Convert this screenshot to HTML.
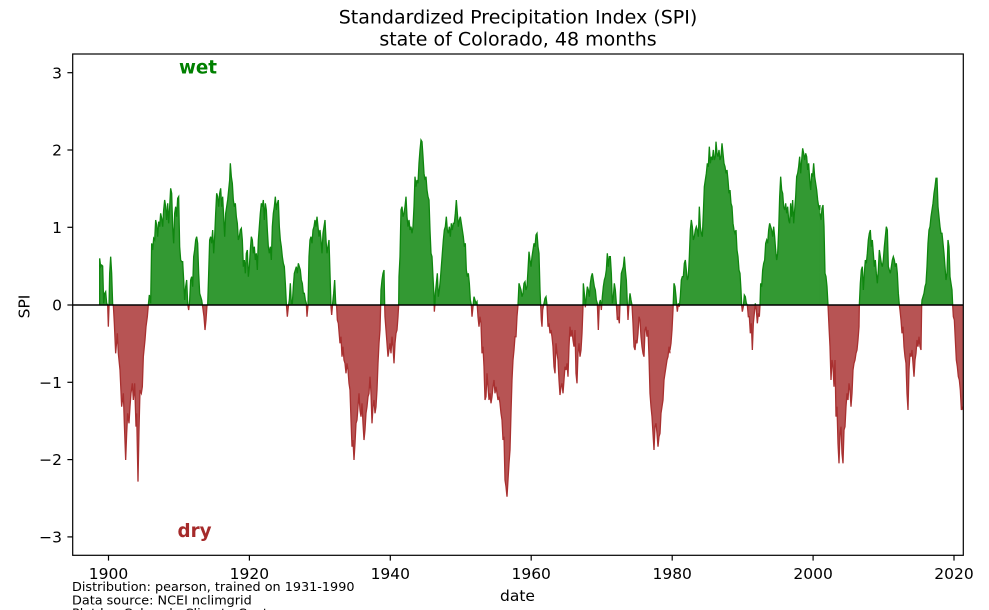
<!DOCTYPE html>
<html>
<head>
<meta charset="utf-8">
<style>
html,body{margin:0;padding:0;background:#fff;}
svg{display:block;}
text{font-family:"DejaVu Sans","Liberation Sans",sans-serif;fill:#000;}
</style>
</head>
<body>
<svg width="989" height="610" viewBox="0 0 989 610" xmlns="http://www.w3.org/2000/svg">
<defs>
  <clipPath id="cAbove"><rect x="0" y="0" width="989" height="305"/></clipPath>
  <clipPath id="cBelow"><rect x="0" y="305" width="989" height="305"/></clipPath>
  <g id="fills">
    <path transform="translate(60,40) scale(0.333333)" d="M119,795 L119,655 122,680 125,675 128,678 131,790 134,760 137,755 140,790 143,795 145,860 147,800 149,700 152,650 155,700 158,795 160,795 163,850 167,940 172,880 175,940 180,990 185,1100 190,1060 193,1150 197,1260 200,1180 203,1120 207,1150 210,1100 213,1060 217,1030 220,1080 224,1030 228,1160 230,1120 234,1325 237,1170 240,1050 244,1060 247,1040 250,950 255,900 258,860 262,830 265,795 268,765 272,790 275,610 278,630 281,595 284,600 287,540 290,555 293,590 296,545 299,560 302,520 305,535 308,560 311,510 314,480 317,500 320,540 323,490 326,550 329,500 332,445 335,460 338,560 341,610 344,520 347,500 350,530 353,475 356,470 359,620 362,660 365,665 368,665 371,720 374,780 377,740 380,720 383,790 386,810 389,780 392,720 395,710 398,740 401,650 404,630 407,600 410,590 413,610 416,700 419,760 422,770 425,780 428,800 432,830 435,870 438,840 441,795 443,795 446,700 449,600 452,590 455,610 458,570 461,640 464,590 467,520 470,460 473,470 476,500 479,460 482,445 485,500 488,470 491,530 494,590 497,520 500,500 503,480 506,450 509,420 511,370 514,410 517,430 520,480 523,500 526,490 529,530 532,550 535,600 538,590 541,570 544,565 547,600 550,680 553,660 556,700 559,640 562,630 565,710 568,680 571,630 574,590 577,600 580,640 583,620 586,660 589,640 592,690 595,600 598,560 601,520 604,490 607,500 610,480 613,540 616,490 619,510 622,570 625,620 628,640 631,620 634,660 637,560 640,520 643,500 646,470 649,510 652,490 655,480 658,560 661,600 664,620 667,650 670,670 673,680 676,730 679,790 682,830 685,800 688,780 691,730 694,790 697,790 700,740 703,700 706,690 709,680 712,700 715,670 718,680 721,690 724,720 727,730 730,760 733,760 736,780 739,790 741,830 744,795 747,650 750,600 753,590 756,610 759,570 762,560 765,540 768,560 771,530 774,560 777,590 780,570 783,600 786,640 789,580 792,560 795,540 798,600 801,640 804,620 807,600 810,700 813,800 815,825 818,790 821,760 824,720 827,790 831,800 831,795 Z"/>
    <path transform="translate(280,130) scale(0.333333)" d="M169,525 L172,570 175,580 180,640 183,620 186,680 189,650 192,690 195,700 198,730 201,700 204,720 207,760 210,780 213,870 216,950 219,930 222,990 225,940 228,880 231,870 234,830 237,790 240,840 243,860 246,820 249,880 252,930 255,900 258,850 261,830 264,800 267,790 270,740 273,790 276,880 279,830 282,810 285,850 288,830 291,780 294,700 297,640 300,600 302,525 303,480 306,450 309,430 312,420 314,525 315,560 318,600 321,640 324,680 327,660 330,640 333,670 336,620 339,650 342,700 345,640 348,610 351,600 354,560 356,525 357,440 360,380 363,240 366,230 369,260 372,250 375,230 378,200 381,260 384,290 387,270 390,300 393,290 396,310 399,290 402,230 405,140 408,170 411,150 414,160 417,100 420,60 423,30 426,35 429,80 432,130 435,150 438,140 441,180 444,200 447,210 450,300 453,370 456,380 459,440 462,500 463,545 465,520 466,490 469,460 472,430 475,500 478,480 481,450 484,410 487,370 490,330 493,300 496,290 499,260 502,300 505,310 508,290 511,320 514,280 517,300 520,280 523,280 526,250 529,210 532,250 535,290 538,270 541,260 544,280 547,300 550,320 553,350 556,340 559,420 562,440 565,430 568,460 571,510 574,525 Z"/>
    <path transform="translate(470,220) scale(0.333333)" d="M4,255 L6,290 9,260 12,230 15,240 18,250 21,245 24,290 27,320 30,290 33,310 36,400 39,380 42,440 45,540 48,530 51,460 54,500 57,540 60,520 63,550 66,530 69,500 72,480 75,520 78,500 81,520 84,540 87,530 90,550 93,580 96,600 99,660 102,650 105,780 108,800 111,830 114,780 117,730 120,690 123,580 126,480 129,420 132,390 135,350 138,350 141,290 144,255 147,190 150,200 153,210 156,230 159,220 162,190 165,185 168,210 171,200 174,150 177,95 180,120 183,140 186,110 189,90 192,70 195,80 198,45 201,40 204,80 207,100 210,210 212,255 214,300 216,320 218,270 221,255 225,235 228,230 231,255 234,320 237,310 240,340 243,330 246,350 249,380 252,440 255,460 258,370 261,400 264,420 267,480 270,525 273,500 276,490 279,520 282,480 285,440 288,450 291,430 294,470 297,380 300,320 303,350 306,330 309,360 312,380 315,330 318,460 321,490 324,400 327,370 330,410 333,390 336,340 339,260 340,190 343,220 346,262 349,230 352,200 355,210 358,230 361,190 364,170 367,160 370,180 373,200 376,210 379,240 382,250 385,330 388,250 391,240 394,270 397,230 400,200 403,180 406,170 409,150 412,100 415,140 418,110 421,110 424,160 427,250 430,230 433,190 436,210 439,250 442,300 445,290 448,310 451,220 454,160 457,150 460,140 463,110 466,150 469,180 472,250 474,300 477,250 480,220 483,240 486,255 489,310 492,380 495,390 498,360 501,370 504,340 507,290 510,300 513,350 516,380 519,400 522,410 525,330 528,320 531,350 534,330 537,410 540,520 543,560 546,590 549,640 552,690 555,620 558,610 561,640 564,680 567,650 570,640 573,580 576,560 579,540 582,480 585,460 588,440 591,420 594,410 597,380 601,400 601,255 Z"/>
    <path transform="translate(660,130) scale(0.333333)" d="M29,525 L29,660 33,640 36,600 39,540 42,460 45,470 48,500 50,525 52,545 55,520 58,530 61,500 64,450 67,440 70,440 73,400 76,390 79,420 82,450 85,440 88,380 91,300 94,270 97,290 100,330 103,320 106,300 109,290 112,300 115,320 118,230 121,290 124,310 127,320 130,250 133,170 136,150 139,130 142,100 145,110 148,50 151,100 154,80 157,90 160,60 163,90 166,80 168,35 171,70 174,80 177,60 180,90 183,80 186,40 189,70 192,100 195,110 198,130 201,120 204,150 207,190 210,180 213,220 216,230 219,280 222,300 225,310 228,300 231,360 234,380 237,420 240,430 243,480 245,525 247,545 250,530 253,495 256,500 259,520 262,525 265,560 268,560 271,610 274,580 277,660 280,580 283,550 286,520 289,540 292,580 295,550 298,560 300,525 302,460 305,470 308,420 311,400 314,390 317,340 320,330 323,340 326,300 329,280 332,290 335,300 338,320 341,290 344,320 347,360 350,390 353,370 356,300 359,200 362,140 365,180 368,190 371,230 374,240 377,220 380,250 383,230 386,270 389,280 392,220 395,260 398,210 401,280 404,240 407,200 410,140 413,130 416,110 419,80 422,130 425,90 428,55 431,70 434,90 437,70 440,80 443,120 446,100 449,150 452,180 455,130 458,140 461,100 464,140 467,160 470,180 473,210 476,230 479,240 481,225 481,525 Z"/>
    <path transform="translate(820,160) scale(0.333333)" d="M-1,435 L-1,160 3,180 6,145 9,135 12,200 15,340 18,350 21,380 24,435 27,500 30,560 33,660 36,600 39,620 42,680 45,600 48,770 51,740 54,850 57,910 60,820 63,800 66,880 69,910 72,810 75,800 78,740 81,700 84,720 87,670 90,690 93,740 96,700 99,630 102,610 105,600 108,580 111,570 114,540 117,500 118,435 121,370 124,330 127,320 130,390 133,340 136,300 139,310 142,280 145,240 148,220 151,210 154,260 157,240 160,280 163,320 166,300 169,340 172,370 175,330 178,270 181,290 184,310 187,320 190,300 193,260 196,230 199,200 202,210 205,320 208,330 211,340 214,320 217,300 220,290 223,300 226,320 229,310 232,340 235,400 238,435 240,450 243,480 246,520 249,500 252,560 255,590 258,610 261,700 264,750 267,630 270,580 273,590 276,570 279,610 282,650 285,600 288,580 291,540 294,560 297,530 300,560 303,570 305,435 306,420 309,410 312,400 315,380 318,370 321,320 324,250 327,210 330,200 333,170 336,150 339,130 342,100 345,80 348,55 351,55 354,140 357,170 360,200 363,220 366,220 369,250 372,280 375,320 378,360 381,340 384,240 387,260 390,350 393,370 396,390 398,435 400,470 403,480 406,540 409,600 412,620 415,650 418,660 421,690 424,750 427,740 429,750 429,435 Z"/>
  </g>
  <g id="lines" fill="none">
    <path vector-effect="non-scaling-stroke" transform="translate(60,40) scale(0.333333)" d="M119,795 L119,655 122,680 125,675 128,678 131,790 134,760 137,755 140,790 143,795 145,860 147,800 149,700 152,650 155,700 158,795 160,795 163,850 167,940 172,880 175,940 180,990 185,1100 190,1060 193,1150 197,1260 200,1180 203,1120 207,1150 210,1100 213,1060 217,1030 220,1080 224,1030 228,1160 230,1120 234,1325 237,1170 240,1050 244,1060 247,1040 250,950 255,900 258,860 262,830 265,795 268,765 272,790 275,610 278,630 281,595 284,600 287,540 290,555 293,590 296,545 299,560 302,520 305,535 308,560 311,510 314,480 317,500 320,540 323,490 326,550 329,500 332,445 335,460 338,560 341,610 344,520 347,500 350,530 353,475 356,470 359,620 362,660 365,665 368,665 371,720 374,780 377,740 380,720 383,790 386,810 389,780 392,720 395,710 398,740 401,650 404,630 407,600 410,590 413,610 416,700 419,760 422,770 425,780 428,800 432,830 435,870 438,840 441,795 443,795 446,700 449,600 452,590 455,610 458,570 461,640 464,590 467,520 470,460 473,470 476,500 479,460 482,445 485,500 488,470 491,530 494,590 497,520 500,500 503,480 506,450 509,420 511,370 514,410 517,430 520,480 523,500 526,490 529,530 532,550 535,600 538,590 541,570 544,565 547,600 550,680 553,660 556,700 559,640 562,630 565,710 568,680 571,630 574,590 577,600 580,640 583,620 586,660 589,640 592,690 595,600 598,560 601,520 604,490 607,500 610,480 613,540 616,490 619,510 622,570 625,620 628,640 631,620 634,660 637,560 640,520 643,500 646,470 649,510 652,490 655,480 658,560 661,600 664,620 667,650 670,670 673,680 676,730 679,790 682,830 685,800 688,780 691,730 694,790 697,790 700,740 703,700 706,690 709,680 712,700 715,670 718,680 721,690 724,720 727,730 730,760 733,760 736,780 739,790 741,830 744,795 747,650 750,600 753,590 756,610 759,570 762,560 765,540 768,560 771,530 774,560 777,590 780,570 783,600 786,640 789,580 792,560 795,540 798,600 801,640 804,620 807,600 810,700 813,800 815,825 818,790 821,760 824,720 827,790 830,800"/>
    <path vector-effect="non-scaling-stroke" transform="translate(280,130) scale(0.333333)" d="M170,530 L172,570 175,580 180,640 183,620 186,680 189,650 192,690 195,700 198,730 201,700 204,720 207,760 210,780 213,870 216,950 219,930 222,990 225,940 228,880 231,870 234,830 237,790 240,840 243,860 246,820 249,880 252,930 255,900 258,850 261,830 264,800 267,790 270,740 273,790 276,880 279,830 282,810 285,850 288,830 291,780 294,700 297,640 300,600 302,525 303,480 306,450 309,430 312,420 314,525 315,560 318,600 321,640 324,680 327,660 330,640 333,670 336,620 339,650 342,700 345,640 348,610 351,600 354,560 356,525 357,440 360,380 363,240 366,230 369,260 372,250 375,230 378,200 381,260 384,290 387,270 390,300 393,290 396,310 399,290 402,230 405,140 408,170 411,150 414,160 417,100 420,60 423,30 426,35 429,80 432,130 435,150 438,140 441,180 444,200 447,210 450,300 453,370 456,380 459,440 462,500 463,545 465,520 466,490 469,460 472,430 475,500 478,480 481,450 484,410 487,370 490,330 493,300 496,290 499,260 502,300 505,310 508,290 511,320 514,280 517,300 520,280 523,280 526,250 529,210 532,250 535,290 538,270 541,260 544,280 547,300 550,320 553,350 556,340 559,420 562,440 565,430 568,460 571,510 574,525"/>
    <path vector-effect="non-scaling-stroke" transform="translate(470,220) scale(0.333333)" d="M4,255 L6,290 9,260 12,230 15,240 18,250 21,245 24,290 27,320 30,290 33,310 36,400 39,380 42,440 45,540 48,530 51,460 54,500 57,540 60,520 63,550 66,530 69,500 72,480 75,520 78,500 81,520 84,540 87,530 90,550 93,580 96,600 99,660 102,650 105,780 108,800 111,830 114,780 117,730 120,690 123,580 126,480 129,420 132,390 135,350 138,350 141,290 144,255 147,190 150,200 153,210 156,230 159,220 162,190 165,185 168,210 171,200 174,150 177,95 180,120 183,140 186,110 189,90 192,70 195,80 198,45 201,40 204,80 207,100 210,210 212,255 214,300 216,320 218,270 221,255 225,235 228,230 231,255 234,320 237,310 240,340 243,330 246,350 249,380 252,440 255,460 258,370 261,400 264,420 267,480 270,525 273,500 276,490 279,520 282,480 285,440 288,450 291,430 294,470 297,380 300,320 303,350 306,330 309,360 312,380 315,330 318,460 321,490 324,400 327,370 330,410 333,390 336,340 339,260 340,190 343,220 346,262 349,230 352,200 355,210 358,230 361,190 364,170 367,160 370,180 373,200 376,210 379,240 382,250 385,330 388,250 391,240 394,270 397,230 400,200 403,180 406,170 409,150 412,100 415,140 418,110 421,110 424,160 427,250 430,230 433,190 436,210 439,250 442,300 445,290 448,310 451,220 454,160 457,150 460,140 463,110 466,150 469,180 472,250 474,300 477,250 480,220 483,240 486,255 489,310 492,380 495,390 498,360 501,370 504,340 507,290 510,300 513,350 516,380 519,400 522,410 525,330 528,320 531,350 534,330 537,410 540,520 543,560 546,590 549,640 552,690 555,620 558,610 561,640 564,680 567,650 570,640 573,580 576,560 579,540 582,480 585,460 588,440 591,420 594,410 597,380 600,400"/>
    <path vector-effect="non-scaling-stroke" transform="translate(660,130) scale(0.333333)" d="M30,660 L33,640 36,600 39,540 42,460 45,470 48,500 50,525 52,545 55,520 58,530 61,500 64,450 67,440 70,440 73,400 76,390 79,420 82,450 85,440 88,380 91,300 94,270 97,290 100,330 103,320 106,300 109,290 112,300 115,320 118,230 121,290 124,310 127,320 130,250 133,170 136,150 139,130 142,100 145,110 148,50 151,100 154,80 157,90 160,60 163,90 166,80 168,35 171,70 174,80 177,60 180,90 183,80 186,40 189,70 192,100 195,110 198,130 201,120 204,150 207,190 210,180 213,220 216,230 219,280 222,300 225,310 228,300 231,360 234,380 237,420 240,430 243,480 245,525 247,545 250,530 253,495 256,500 259,520 262,525 265,560 268,560 271,610 274,580 277,660 280,580 283,550 286,520 289,540 292,580 295,550 298,560 300,525 302,460 305,470 308,420 311,400 314,390 317,340 320,330 323,340 326,300 329,280 332,290 335,300 338,320 341,290 344,320 347,360 350,390 353,370 356,300 359,200 362,140 365,180 368,190 371,230 374,240 377,220 380,250 383,230 386,270 389,280 392,220 395,260 398,210 401,280 404,240 407,200 410,140 413,130 416,110 419,80 422,130 425,90 428,55 431,70 434,90 437,70 440,80 443,120 446,100 449,150 452,180 455,130 458,140 461,100 464,140 467,160 470,180 473,210 476,230 479,240 480,225"/>
    <path vector-effect="non-scaling-stroke" transform="translate(820,160) scale(0.333333)" d="M0,160 L3,180 6,145 9,135 12,200 15,340 18,350 21,380 24,435 27,500 30,560 33,660 36,600 39,620 42,680 45,600 48,770 51,740 54,850 57,910 60,820 63,800 66,880 69,910 72,810 75,800 78,740 81,700 84,720 87,670 90,690 93,740 96,700 99,630 102,610 105,600 108,580 111,570 114,540 117,500 118,435 121,370 124,330 127,320 130,390 133,340 136,300 139,310 142,280 145,240 148,220 151,210 154,260 157,240 160,280 163,320 166,300 169,340 172,370 175,330 178,270 181,290 184,310 187,320 190,300 193,260 196,230 199,200 202,210 205,320 208,330 211,340 214,320 217,300 220,290 223,300 226,320 229,310 232,340 235,400 238,435 240,450 243,480 246,520 249,500 252,560 255,590 258,610 261,700 264,750 267,630 270,580 273,590 276,570 279,610 282,650 285,600 288,580 291,540 294,560 297,530 300,560 303,570 305,435 306,420 309,410 312,400 315,380 318,370 321,320 324,250 327,210 330,200 333,170 336,150 339,130 342,100 345,80 348,55 351,55 354,140 357,170 360,200 363,220 366,220 369,250 372,280 375,320 378,360 381,340 384,240 387,260 390,350 393,370 396,390 398,435 400,470 403,480 406,540 409,600 412,620 415,650 418,660 421,690 424,750 427,740 429,750"/>
  </g>
</defs>

<!-- data -->
<g clip-path="url(#cAbove)">
  <use href="#fills" fill="#339933"/>
  <use href="#lines" stroke="#0f860f" stroke-width="1.3"/>
</g>
<g clip-path="url(#cBelow)">
  <use href="#fills" fill="#b75454"/>
  <use href="#lines" stroke="#a83030" stroke-width="1.3"/>
</g>

<!-- zero line -->
<line x1="72.7" y1="305" x2="963.3" y2="305" stroke="#000" stroke-width="1.5"/>

<!-- axes frame -->
<rect x="72.7" y="54" width="890.6" height="501.3" fill="none" stroke="#000" stroke-width="1.2"/>

<!-- y ticks -->
<g stroke="#000" stroke-width="1.2">
  <line x1="67.4" y1="72.7" x2="72.7" y2="72.7"/>
  <line x1="67.4" y1="150" x2="72.7" y2="150"/>
  <line x1="67.4" y1="227.3" x2="72.7" y2="227.3"/>
  <line x1="67.4" y1="305" x2="72.7" y2="305"/>
  <line x1="67.4" y1="382.3" x2="72.7" y2="382.3"/>
  <line x1="67.4" y1="459.6" x2="72.7" y2="459.6"/>
  <line x1="67.4" y1="536.9" x2="72.7" y2="536.9"/>
</g>
<g font-size="15.5" text-anchor="end">
  <text x="62" y="78.3">3</text>
  <text x="62" y="155.6">2</text>
  <text x="62" y="232.9">1</text>
  <text x="62" y="310.6">0</text>
  <text x="62" y="387.9">−1</text>
  <text x="62" y="465.2">−2</text>
  <text x="62" y="542.5">−3</text>
</g>

<!-- x ticks -->
<g stroke="#000" stroke-width="1.2">
  <line x1="108.5" y1="555.3" x2="108.5" y2="560.6"/>
  <line x1="249.4" y1="555.3" x2="249.4" y2="560.6"/>
  <line x1="390.3" y1="555.3" x2="390.3" y2="560.6"/>
  <line x1="531.2" y1="555.3" x2="531.2" y2="560.6"/>
  <line x1="672.2" y1="555.3" x2="672.2" y2="560.6"/>
  <line x1="813.1" y1="555.3" x2="813.1" y2="560.6"/>
  <line x1="954" y1="555.3" x2="954" y2="560.6"/>
</g>
<g font-size="15.5" text-anchor="middle">
  <text x="108.5" y="579">1900</text>
  <text x="249.4" y="579">1920</text>
  <text x="390.3" y="579">1940</text>
  <text x="531.2" y="579">1960</text>
  <text x="672.2" y="579">1980</text>
  <text x="813.1" y="579">2000</text>
  <text x="954" y="579">2020</text>
</g>

<!-- axis labels -->
<text x="517.5" y="601" font-size="15.5" text-anchor="middle">date</text>
<text transform="translate(29.5,306.5) rotate(-90)" font-size="15.5" text-anchor="middle">SPI</text>

<!-- title -->
<text x="518" y="23.5" font-size="19" text-anchor="middle">Standardized Precipitation Index (SPI)</text>
<text x="518" y="45.5" font-size="19" text-anchor="middle">state of Colorado, 48 months</text>

<!-- wet / dry -->
<text x="179" y="73.5" font-size="18.3" font-weight="bold" style="fill:#008000">wet</text>
<text x="177.5" y="537" font-size="18.3" font-weight="bold" style="fill:#a52a2a">dry</text>

<!-- footnotes -->
<g font-size="12.8">
  <text x="72" y="591">Distribution: pearson, trained on 1931-1990</text>
  <text x="72" y="604.3">Data source: NCEI nclimgrid</text>
  <text x="72" y="617.6">Plot by: Colorado Climate Center</text>
</g>
</svg>
</body>
</html>
